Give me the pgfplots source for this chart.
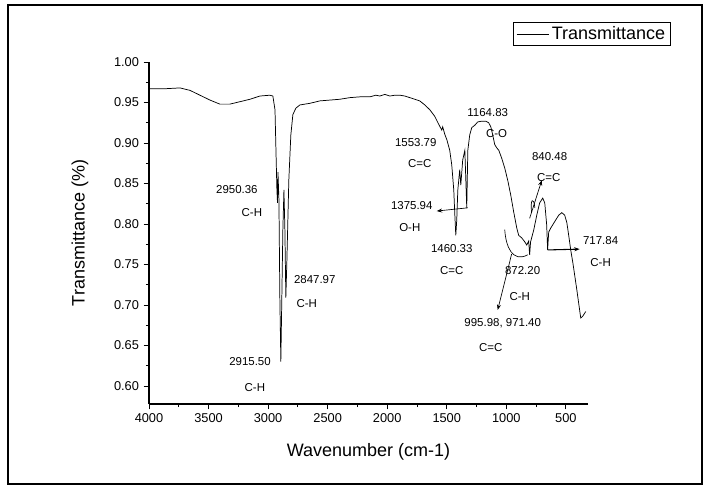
\documentclass[border=0pt]{standalone}
\usepackage{pgfplots}
\pgfplotsset{compat=1.18}
\usepackage{fontspec}
\setmainfont{Liberation Sans}
\usetikzlibrary{arrows.meta}
\begin{document}
\begin{tikzpicture}
\begin{axis}[
  at={(0,0)}, anchor=south west,
  scale only axis, width=329.25pt, height=256.5pt,
  x dir=reverse, xmin=314, xmax=4000, ymin=0.5778, ymax=1.0,
  axis x line*=bottom, axis y line*=left,
  axis line style={line width=0.8pt,-},
  tick align=outside, tick style={black, line width=0.7pt},
  major tick length=4pt, minor tick length=2.4pt,
  xtick={500,1000,...,4000}, minor x tick num=1,
  ytick={0.60,0.65,...,1.001}, minor y tick num=1,
  /pgf/number format/assume math mode=true,
  xticklabel style={/pgf/number format/1000 sep={}},
  yticklabel style={/pgf/number format/.cd, fixed, fixed zerofill, precision=2},
  tick label style={font=\fontsize{9.6}{11}\selectfont},
  xlabel={Wavenumber (cm-1)}, ylabel={Transmittance (\%)},
  label style={font=\fontsize{13.5}{15}\selectfont},
  xlabel style={at={(axis description cs:0.5,-0.14)}, anchor=center},
  ylabel style={at={(axis description cs:-0.157,0.5)}, anchor=center},
  clip=false,
  legend style={at={(1.189,1.117)}, anchor=north east, draw=black, line width=0.6pt,
    font=\fontsize{13.5}{15}\selectfont, inner xsep=2pt, inner ysep=1pt, row sep=0pt},
  legend image code/.code={\draw[black, line width=0.6pt] (0cm,0cm) -- (0.85cm,0cm);},
]
\addplot[black, line width=0.55pt] coordinates {
(4000,0.967) (3866,0.967) (3740,0.968) (3656,0.965) (3572,0.959) (3488,0.953)
(3405,0.948) (3321,0.948) (3236,0.951) (3152,0.954) (3069,0.958) (2985,0.959)
(2960,0.958) (2942,0.941) (2934,0.891) (2926,0.842) (2921,0.826) (2917,0.864)
(2909,0.830) (2901,0.706) (2893,0.630) (2885,0.706) (2876,0.793) (2867,0.842)
(2859,0.793) (2851,0.709) (2842,0.756) (2826,0.854) (2809,0.910) (2792,0.935)
(2767,0.943) (2733,0.947) (2649,0.949) (2565,0.952) (2481,0.953) (2398,0.954)
(2314,0.956) (2229,0.957) (2145,0.957) (2096,0.959) (2062,0.958) (2020,0.960)
(1978,0.958) (1936,0.959) (1894,0.959) (1852,0.958) (1810,0.956) (1768,0.954)
(1727,0.952) (1684,0.947) (1642,0.941) (1601,0.933) (1567,0.923) (1542,0.916)
(1534,0.920) (1517,0.911) (1499,0.904) (1475,0.891) (1458,0.873) (1441,0.842)
(1432,0.811) (1424,0.786) (1416,0.805) (1407,0.842) (1391,0.867) (1382,0.848)
(1366,0.879) (1348,0.891) (1332,0.820) (1323,0.891) (1307,0.910) (1290,0.919)
(1264,0.922) (1240,0.926) (1206,0.927) (1173,0.927) (1148,0.925) (1130,0.920)
(1114,0.910) (1097,0.898) (1080,0.894) (1063,0.891) (1038,0.881) (1013,0.869)
(988,0.854) (963,0.836) (938,0.815) (912,0.795) (896,0.786) (871,0.783)
(845,0.778) (828,0.774) (812,0.779) (804,0.762) (796,0.778) (769,0.793)
(744,0.811) (720,0.826) (694,0.832) (677,0.826) (661,0.799) (653,0.768)
(644,0.790) (627,0.795) (610,0.799) (585,0.805) (559,0.811) (534,0.814)
(510,0.811) (492,0.802) (476,0.786) (459,0.768) (442,0.753) (426,0.737)
(408,0.719) (392,0.702) (375,0.684) (359,0.686) (333,0.692)
};
\addlegendentry{Transmittance}
\begin{scope}[every node/.style={font=\fontsize{8.6}{10}\selectfont, inner sep=0pt}]
\node at (axis cs:3262,0.842) {2950.36};
\node at (axis cs:3136,0.814) {C-H};
\node at (axis cs:2608,0.731) {2847.97};
\node at (axis cs:2675,0.702) {C-H};
\node at (axis cs:3152,0.630) {2915.50};
\node at (axis cs:3111,0.598) {C-H};
\node at (axis cs:1760,0.901) {1553.79};
\node at (axis cs:1727,0.875) {C=C};
\node at (axis cs:1794,0.823) {1375.94};
\node at (axis cs:1810,0.796) {O-H};
\node at (axis cs:1458,0.770) {1460.33};
\node at (axis cs:1458,0.743) {C=C};
\node at (axis cs:1156,0.937) {1164.83};
\node at (axis cs:1081,0.912) {C-O};
\node at (axis cs:636,0.883) {840.48};
\node at (axis cs:644,0.857) {C=C};
\node at (axis cs:208,0.780) {717.84};
\node at (axis cs:208,0.753) {C-H};
\node at (axis cs:863,0.742) {872.20};
\node at (axis cs:887,0.711) {C-H};
\node at (axis cs:1030,0.678) {995.98, 971.40};
\node at (axis cs:1130,0.648) {C=C};
\end{scope}
\draw[black, line width=0.5pt, -{Stealth[length=4pt,width=3pt]}] (axis cs:1323,0.820) -- (axis cs:1584,0.816);
\draw[black, line width=0.5pt, -{Stealth[length=4pt,width=3pt]}] (axis cs:804,0.807) -- (axis cs:702,0.854);
\draw[black, line width=0.5pt] (axis cs:788,0.815) .. controls (axis cs:801,0.83) and (axis cs:770,0.835) .. (axis cs:760,0.82);
\draw[black, line width=0.8pt, -{Stealth[length=4pt,width=3pt]}] (axis cs:653,0.768) -- (axis cs:384,0.769);
\draw[black, line width=0.5pt] (axis cs:1013,0.793) .. controls (axis cs:1004,0.772) and (axis cs:948,0.752) .. (axis cs:820,0.762);
\draw[black, line width=0.5pt, -{Stealth[length=4pt,width=3pt]}] (axis cs:955,0.763) -- (axis cs:1072,0.694);
\end{axis}
\draw[black, line width=1.1pt] (-105.75pt,-60pt) rectangle (414.75pt,299.25pt);
\path (-111.75pt,-64.5pt) rectangle (423.75pt,303pt);
\end{tikzpicture}
\end{document}
